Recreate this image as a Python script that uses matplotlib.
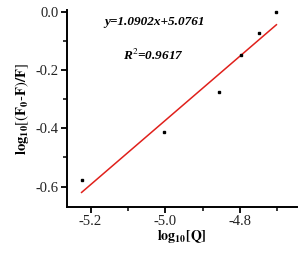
import matplotlib
matplotlib.use('Agg')
import matplotlib.pyplot as plt
from matplotlib.ticker import MultipleLocator

# data
log_q = [-5.224, -5.002, -4.855, -4.798, -4.748, -4.702]
log_f = [-0.578, -0.412, -0.276, -0.150, -0.073, -0.003]
fit_x = [-5.224, -4.702]
fit_y = [-0.620, -0.045]
eq_text = 'y=1.0902x+5.0761'
r2_text = r'R$^{2}$=0.9617'

plt.rcParams['font.family'] = 'Liberation Serif'
plt.rcParams['mathtext.fontset'] = 'stix'

fig = plt.figure(figsize=(3.03, 2.54), dpi=100)
ax = fig.add_axes([0.22, 0.185, 0.76, 0.775])

ax.plot(fit_x, fit_y, color='#e0201b', lw=1.1)
ax.plot(log_q, log_f, 's', color='black', ms=1.6)

ax.set_xlim(-5.264, -4.647)
ax.set_ylim(-0.67, 0.005)

ax.spines['top'].set_visible(False)
ax.spines['right'].set_visible(False)
ax.spines['left'].set_linewidth(1.4)
ax.spines['bottom'].set_linewidth(1.4)

ax.xaxis.set_major_locator(MultipleLocator(0.2))
ax.xaxis.set_minor_locator(MultipleLocator(0.1))
ax.yaxis.set_major_locator(MultipleLocator(0.2))
ax.yaxis.set_minor_locator(MultipleLocator(0.1))
ax.tick_params(which='major', length=4, width=1.3, labelsize=10.5, pad=2,
               labelcolor='#222222')
ax.tick_params(which='minor', length=3, width=1.1)
ax.set_xticks([-5.2, -5.0, -4.8])
ax.set_xticklabels(['-5.2', '-5.0', '-4.8'])
ax.set_yticks([0.0, -0.2, -0.4, -0.6])
ax.set_yticklabels(['0.0', '-0.2', '-0.4', '-0.6'])

ax.set_xlabel(r'$\mathbf{log_{10}[Q]}$', fontsize=10, labelpad=0)
ax.set_ylabel(r'$\mathbf{log_{10}}\left[\left(\mathbf{F_0}\mathbf{\text{-}F}\right)\mathbf{/F}\right]$',
              fontsize=10.5, labelpad=3)

ax.text(-5.162, -0.036, eq_text, fontsize=9.5, fontweight='bold',
        style='italic', va='center')
ax.text(-5.113, -0.150, r2_text, fontsize=9.5, fontweight='bold',
        style='italic', va='center')

fig.savefig('out.png', dpi=100)
